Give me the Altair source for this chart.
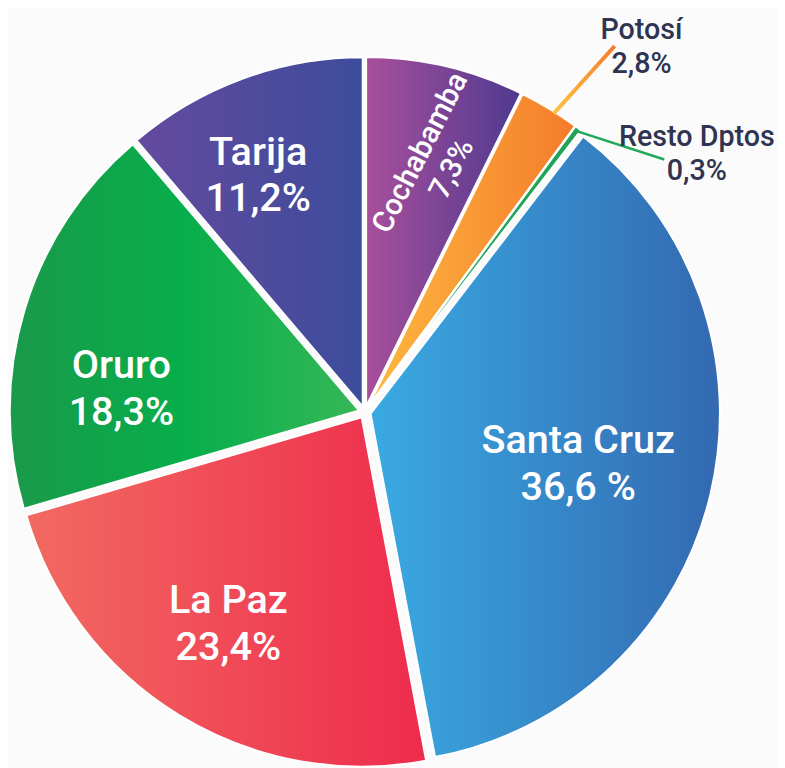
import math
import altair as alt
import pandas as pd

# ---------------- data ----------------
departments = ["Cochabamba", "Potosí", "Resto Dptos", "Santa Cruz", "La Paz", "Oruro", "Tarija"]
shares = [7.3, 2.8, 0.3, 36.6, 23.4, 18.3, 11.2]
share_text = ["7,3%", "2,8%", "0,3%", "36,6 %", "23,4%", "18,3%", "11,2%"]

# ---------------- layout / style ----------------
W, H = 777, 760          # plot area
CX, CY = 360.5, 404.5    # pie centre inside plot area (px from left / top)
RADIUS = 353
EXPLODE = 6

# label placement: distance from centre (px), angular shift from slice middle (deg)
LABEL_LAYOUT = {
    "Cochabamba": (264, 2.7),
    "Potosí": (463, 5.8),
    "Resto Dptos": (425, 15.2),
    "Santa Cruz": (222, 0.4),
    "La Paz": (255, 1.2),
    "Oruro": (247, -11.4),
    "Tarija": (262, -4.1),
}
# leader lines: (start r, start shift), (end r, end shift)
LEADERS = {
    "Potosí": ((357, 0.95), (448, 2.95)),
    "Resto Dptos": ((355, -0.3), (396, 12.9)),
}


def grad(*cols):
    n = len(cols)
    return alt.Gradient(
        gradient="linear", x1=0, y1=0, x2=1, y2=0,
        stops=[alt.GradientStop(color=c, offset=i / (n - 1)) for i, c in enumerate(cols)],
    )


FILLS = {
    "Cochabamba": grad("#A84F9B", "#4E3A90"),
    "Potosí": grad("#FDB940", "#F47B2B"),
    "Resto Dptos": grad("#25AC5C", "#20A358"),
    "Santa Cruz": grad("#3AAAE2", "#3369B1"),
    "La Paz": grad("#F26A61", "#EE2B4D"),
    "Oruro": grad("#1A994A", "#07AE4B", "#36B757"),
    "Tarija": grad("#644A9E", "#3D4C9C"),
}

# ---------------- derived table ----------------
total = sum(shares)
rows = []
cum = 0.0
for name, v, t in zip(departments, shares, share_text):
    start, end = cum, cum + v
    cum = end
    mid = (start + end) / 2 / total * 360
    mr = math.radians(mid)
    lr, la = LABEL_LAYOUT[name]
    a = math.radians(mid + la)
    row = dict(
        name=name, start=start, end=end,
        ox=EXPLODE * math.sin(mr), oy=EXPLODE * math.cos(mr),
        lx=lr * math.sin(a), ly=lr * math.cos(a),
        label=f"{name}\n{t}",
    )
    if name in LEADERS:
        (r1, s1), (r2, s2) = LEADERS[name]
        a1, a2 = math.radians(mid + s1), math.radians(mid + s2)
        row.update(x1=r1 * math.sin(a1), y1=r1 * math.cos(a1),
                   x2=r2 * math.sin(a2), y2=r2 * math.cos(a2))
    rows.append(row)
df = pd.DataFrame(rows)

xs = alt.Scale(domain=[-CX, W - CX], nice=False, zero=False)
ys = alt.Scale(domain=[-(H - CY), CY], nice=False, zero=False)
ts = alt.Scale(domain=[0, total], range=[0, 2 * math.pi], nice=False, zero=False)

base = alt.Chart(df)

layers = []
for name in departments:
    layers.append(
        base.transform_filter(alt.datum.name == name)
        .mark_arc(outerRadius=RADIUS, fill=FILLS[name], stroke="white",
                  strokeWidth=2, strokeJoin="round")
        .encode(
            theta=alt.Theta("start:Q", scale=ts),
            theta2="end:Q",
            x=alt.X("ox:Q", scale=xs, axis=None),
            y=alt.Y("oy:Q", scale=ys, axis=None),
        )
    )

# leader lines
layers.append(
    base.transform_filter(alt.datum.name == "Potosí")
    .mark_rule(strokeWidth=4, stroke=alt.Gradient(
        gradient="linear", x1=0, y1=1, x2=1, y2=0,
        stops=[alt.GradientStop(color="#FDC342", offset=0),
               alt.GradientStop(color="#F47B2B", offset=1)]))
    .encode(x=alt.X("x1:Q", scale=xs), y=alt.Y("y1:Q", scale=ys), x2="x2:Q", y2="y2:Q")
)
layers.append(
    base.transform_filter(alt.datum.name == "Resto Dptos")
    .mark_rule(strokeWidth=2.5, stroke="#22A85A")
    .encode(x=alt.X("x1:Q", scale=xs), y=alt.Y("y1:Q", scale=ys), x2="x2:Q", y2="y2:Q")
)

big = ["Santa Cruz", "La Paz", "Oruro", "Tarija"]
layers.append(
    base.transform_filter(alt.FieldOneOfPredicate(field="name", oneOf=big))
    .mark_text(font="Roboto", fontSize=40, fontWeight=500, color="white",
               lineBreak="\n", lineHeight=47, align="center", baseline="middle", dy=-23.5)
    .encode(x=alt.X("lx:Q", scale=xs), y=alt.Y("ly:Q", scale=ys), text="label:N")
)
layers.append(
    base.transform_filter(alt.datum.name == "Cochabamba")
    .mark_text(font="Roboto", fontSize=30, fontWeight=500, color="white",
               lineBreak="\n", lineHeight=36, align="center", baseline="middle",
               angle=297, dy=-18)
    .encode(x=alt.X("lx:Q", scale=xs), y=alt.Y("ly:Q", scale=ys), text="label:N")
)
layers.append(
    base.transform_filter(alt.FieldOneOfPredicate(field="name", oneOf=["Potosí", "Resto Dptos"]))
    .mark_text(font="Roboto", fontSize=29, fontWeight=500, color="#2E3451",
               lineBreak="\n", lineHeight=35, align="center", baseline="middle", dy=-17.5)
    .encode(x=alt.X("lx:Q", scale=xs), y=alt.Y("ly:Q", scale=ys), text="label:N")
)

chart = (
    alt.layer(*layers)
    .properties(width=W, height=H, padding=0, autosize=alt.AutoSizeParams(type="none"),
                background="#FBFBFB")
    .configure_view(stroke=None)
)

chart.save("out.html", embed_options={"renderer": "svg", "actions": False})
